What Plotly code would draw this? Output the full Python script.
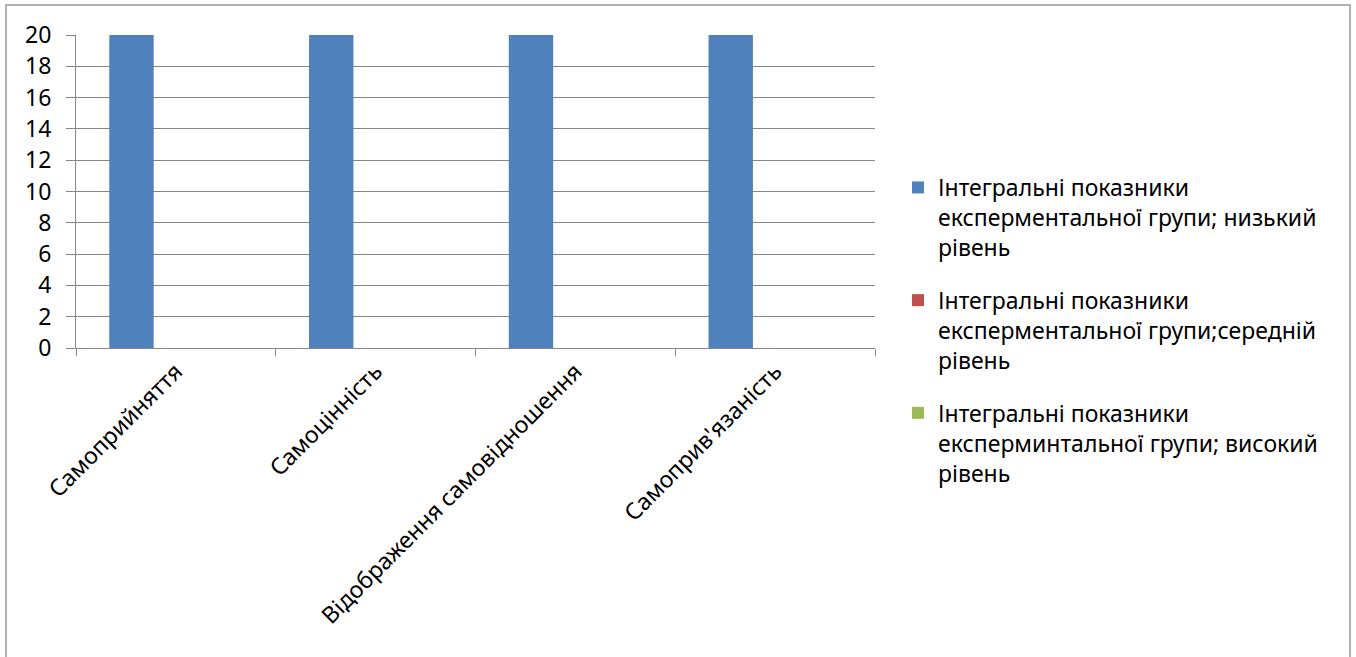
import plotly.graph_objects as go

categories = ["Самоприйняття", "Самоцінність", "Відображення самовідношення", "Самоприв'язаність"]
series_names = [
    "Інтегральні показники<br>експерментальної групи; низький<br>рівень",
    "Інтегральні показники<br>експерментальної групи;середній<br>рівень",
    "Інтегральні показники<br>експерминтальної групи; високий<br>рівень",
]
low_values = [20, 20, 20, 20]
mid_values = [0, 0, 0, 0]
high_values = [0, 0, 0, 0]
colors = ["#4F81BD", "#C0504D", "#9BBB59"]

W, H = 1356, 657
L, R, T, B = 76, 875, 35, 348

fig = go.Figure()
for i, (name, vals, col) in enumerate(zip(series_names, [low_values, mid_values, high_values], colors)):
    fig.add_trace(go.Bar(
        x=categories, y=vals, name=name, legendgroup=f"g{i}",
        marker=dict(color=col, line=dict(width=0)),
    ))

pw, ph = R - L, B - T


def px_x(x):
    return (x - L) / pw


def px_y(y):
    return (B - y) / ph


fig.update_layout(
    width=W, height=H,
    margin=dict(l=L, r=W - R, t=T, b=H - B, pad=0),
    paper_bgcolor="white", plot_bgcolor="white",
    font=dict(family="Noto Sans, Open Sans, sans-serif", size=23, color="black"),
    barmode="group", bargap=1.5 / 4.5, bargroupgap=0,
    showlegend=True,
    legend=dict(
        x=px_x(898), y=px_y(166), xanchor="left", yanchor="top",
        font=dict(size=23), tracegroupgap=20, itemwidth=30, valign="top",
        bgcolor="rgba(0,0,0,0)", maxheight=600,
    ),
    xaxis=dict(
        showline=True, linecolor="#868686", linewidth=1,
        ticks="outside", ticklen=7, tickcolor="#868686", tickson="boundaries",
        tickangle=-45, showgrid=False,
    ),
    yaxis=dict(
        range=[0, 20], dtick=2, showline=True, linecolor="#868686", linewidth=1,
        showgrid=True, gridcolor="#868686", gridwidth=1,
        ticks="outside", ticklen=9, tickcolor="#868686", zeroline=False,
        ticklabelstandoff=10,
    ),
    shapes=[dict(
        type="rect", xref="paper", yref="paper",
        x0=px_x(6), x1=px_x(1350), y0=px_y(H + 5), y1=px_y(5),
        line=dict(color="#9a9a9a", width=1.5), fillcolor="rgba(0,0,0,0)", layer="below",
    )],
)

fig.write_html("out.html")
